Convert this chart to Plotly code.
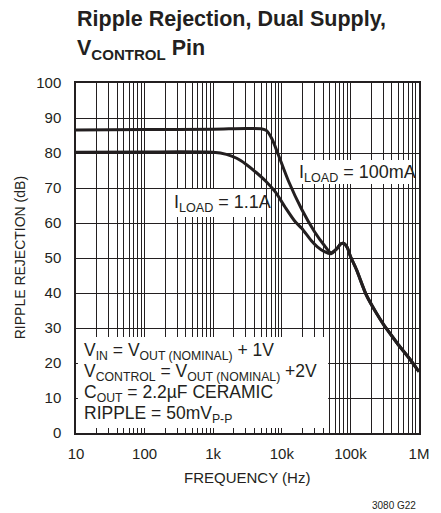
import plotly.graph_objects as go

# ---- data ----
freq_100mA = [10, 100, 1000, 3000, 5000, 6000, 7200, 8900, 12500, 19400, 30000, 42000,
              52000, 63000, 72000, 80000, 90000, 100000, 123000, 170000, 240000, 300000,
              410000, 510000, 710000, 1000000]
rr_100mA = [86.6, 86.7, 86.8, 87.0, 86.9, 86.4, 84.0, 79.5, 72.0, 64.0, 57.5, 53.5,
            51.5, 52.6, 54.0, 54.2, 53.0, 50.5, 46.6, 39.5, 34.2, 31.2,
            27.5, 25.0, 21.5, 17.5]

freq_1A1 = [10, 100, 1000, 1560, 2200, 3000, 4200, 5800, 8100, 11200, 15500, 19500,
            26800, 33000, 42000, 52000, 63000, 72000, 80000, 90000, 100000, 123000,
            170000, 240000, 300000, 410000, 510000, 710000, 1000000]
rr_1A1 = [80.2, 80.3, 80.2, 79.6, 78.5, 76.8, 74.5, 72.0, 68.8, 64.5, 60.5, 58.5,
          55.0, 53.2, 51.8, 51.2, 52.6, 54.0, 54.2, 53.0, 50.5, 46.6,
          39.5, 34.2, 31.2, 27.5, 25.0, 21.5, 17.5]

x_tickvals = [10, 100, 1000, 10000, 100000, 1000000]
x_ticktext = ["10", "100", "1k", "10k", "100k", "1M"]
y_tickvals = [0, 10, 20, 30, 40, 50, 60, 70, 80, 90, 100]

FONT = "Liberation Sans, Arial, Helvetica, sans-serif"
INK = "#231f20"

W, H = 441, 513
L, R, T, B = 76, 14, 83, 80
PW, PH = W - L - R, H - T - B


def px(x):
    return (x - L) / PW


def py(y):
    return (H - B - y) / PH


fig = go.Figure()
for f, v in [(freq_100mA, rr_100mA), (freq_1A1, rr_1A1)]:
    fig.add_trace(go.Scatter(x=f, y=v, mode="lines",
                             line=dict(color=INK, width=3, shape="spline", smoothing=0.7),
                             showlegend=False, hoverinfo="skip"))

# white knock-out boxes behind labels
boxes = [(78, 337, 334, 428), (300, 160, 418, 184), (172, 189, 270, 217)]
for x0, y0, x1, y1 in boxes:
    fig.add_shape(type="rect", xref="paper", yref="paper",
                  x0=px(x0), x1=px(x1), y0=py(y1), y1=py(y0),
                  fillcolor="white", line=dict(width=0), layer="above")

ann = []


def add(text, x, y, size, xanchor="left", yanchor="middle", angle=0):
    ann.append(dict(text=text, xref="paper", yref="paper", x=px(x), y=py(y),
                    xanchor=xanchor, yanchor=yanchor, showarrow=False,
                    textangle=angle, font=dict(family=FONT, size=size, color=INK)))


add("<b>Ripple Rejection, Dual Supply,</b>", 75, 19, 21.5)
add("<b>V<sub>CONTROL</sub> Pin</b>", 75, 50, 21.5)

add("V<sub>IN</sub> = V<sub>OUT (NOMINAL)</sub> + 1V", 82, 351, 17.5)
add("V<sub>CONTROL</sub> = V<sub>OUT (NOMINAL)</sub> +2V", 82, 372, 17.5)
add("C<sub>OUT</sub> = 2.2µF CERAMIC", 82, 393, 17.5)
add("RIPPLE = 50mV<sub>P-P</sub>", 82, 414, 17.5)

add("I<sub>LOAD</sub> = 100mA", 302, 173, 18)
add("I<sub>LOAD</sub> = 1.1A", 174, 203, 18)

add("FREQUENCY (Hz)", 251, 477, 15, xanchor="center")
add("RIPPLE REJECTION (dB)", 19, 258, 14, xanchor="center", angle=-90)
add("3080 G22", 426, 505, 10, xanchor="right")

fig.update_layout(
    width=W, height=H,
    margin=dict(l=L, r=R, t=T, b=B, pad=0),
    paper_bgcolor="white", plot_bgcolor="white",
    font=dict(family=FONT, color=INK),
    annotations=ann,
    xaxis=dict(type="log", range=[1, 6], tickvals=x_tickvals, ticktext=x_ticktext,
               showgrid=True, gridcolor=INK, gridwidth=1,
               minor=dict(dtick="D1", showgrid=True, gridcolor=INK, gridwidth=1, ticks=""),
               showline=True, linecolor=INK, linewidth=1.5, mirror=True,
               ticks="", tickfont=dict(family=FONT, size=15, color=INK),
               ticklabelstandoff=6, zeroline=False),
    yaxis=dict(range=[0, 100], tickvals=y_tickvals,
               showgrid=True, gridcolor=INK, gridwidth=1,
               showline=True, linecolor=INK, linewidth=1.5, mirror=True,
               ticks="", tickfont=dict(family=FONT, size=15, color=INK),
               ticklabelstandoff=10, zeroline=False),
)

fig.write_html("out.html", config={"displayModeBar": False},
               post_script="document.body.style.margin='0px';document.body.style.padding='0px';")
